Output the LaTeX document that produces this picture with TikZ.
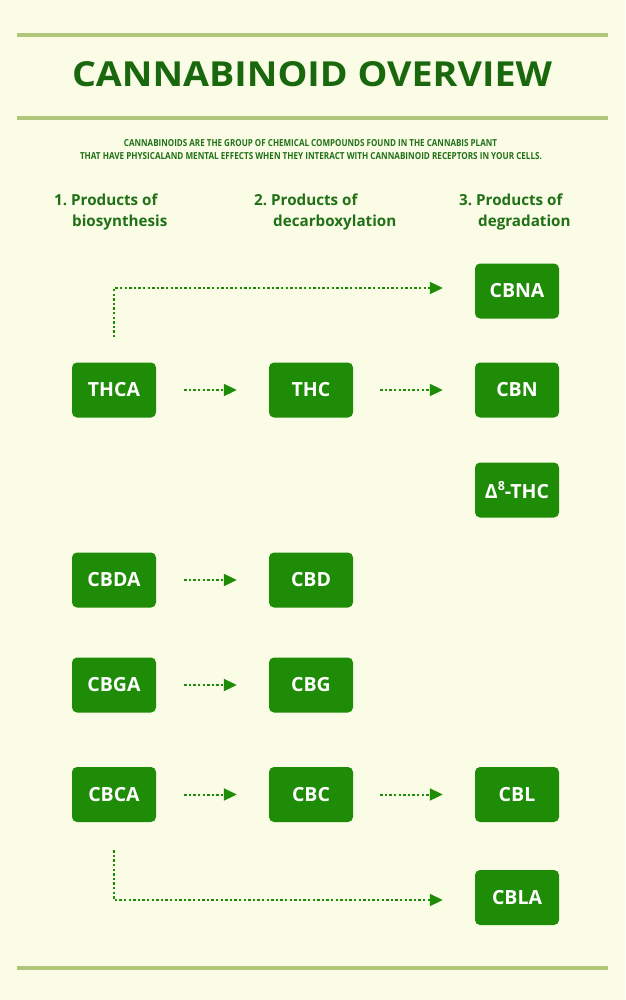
\documentclass[tikz,border=0pt]{standalone}
\usepackage{fontspec}
\setmainfont{Open Sans}
\usetikzlibrary{arrows.meta}
\definecolor{bg}{RGB}{250,252,230}
\definecolor{rule}{RGB}{176,198,122}
\definecolor{titlegreen}{RGB}{26,104,14}
\definecolor{textgreen}{RGB}{32,112,22}
\definecolor{boxgreen}{RGB}{30,140,6}
\tikzset{
  cbox/.style={fill=boxgreen, rounded corners=5pt, minimum width=84pt, minimum height=55pt,
    inner sep=0pt, text=white, font=\fontsize{19.5}{19.5}\selectfont\bfseries},
  hdr/.style={anchor=base west, inner sep=0pt, text=textgreen, font=\fontsize{15.2}{15.2}\selectfont\bfseries},
  flow/.style={draw=boxgreen, line width=2pt, dash pattern=on 2.4pt off 2.2pt,
    -{Triangle[length=13pt,width=12pt,fill=boxgreen]}},
  band/.style={draw=rule, line width=4pt}
}
\begin{document}
\begin{tikzpicture}[x=1pt,y=-1pt]
\fill[bg] (0,0) rectangle (625,1000);
\useasboundingbox (0,0) rectangle (625,1000);
% rules
\draw[band] (17,35) -- (608,35);
\draw[band] (17,118) -- (608,118);
\draw[band] (17,968) -- (608,968);
% title
\node[inner sep=0pt, text=titlegreen, anchor=base] (title) at (312,87)
  {\resizebox{480pt}{25pt}{\bfseries CANNABINOID OVERVIEW}};
\node[inner sep=0pt, text=textgreen, anchor=base] (sub1) at (310.5,147)
  {\resizebox{373pt}{7pt}{\bfseries CANNABINOIDS ARE THE GROUP OF CHEMICAL COMPOUNDS FOUND IN THE CANNABIS PLANT}};
\node[inner sep=0pt, text=textgreen, anchor=base] (sub2) at (311,159.5)
  {\resizebox{462pt}{7pt}{\bfseries THAT HAVE PHYSICALAND MENTAL EFFECTS WHEN THEY INTERACT WITH CANNABINOID RECEPTORS IN YOUR CELLS.}};
% headers
\node[hdr] (h1a) at (54,206) {1.~Products of};
\node[hdr] (h1b) at (72,227) {biosynthesis};
\node[hdr] (h2a) at (254,206) {2.~Products of};
\node[hdr] (h2b) at (273,227) {decarboxylation};
\node[hdr] (h3a) at (459,206) {3.~Products of};
\node[hdr] (h3b) at (478,227) {degradation};
% boxes
\node[cbox] (CBNA) at (517,291) {CBNA};
\node[cbox] (THCA) at (114,390) {THCA};
\node[cbox] (THC)  at (311,390) {THC};
\node[cbox] (CBN)  at (517,390) {CBN};
\node[cbox] (D8)   at (517,490) {Δ\raisebox{0.4em}{\fontsize{12.5}{12.5}\selectfont 8}-THC};
\node[cbox] (CBDA) at (114,580) {CBDA};
\node[cbox] (CBD)  at (311,580) {CBD};
\node[cbox] (CBGA) at (114,685) {CBGA};
\node[cbox] (CBG)  at (311,685) {CBG};
\node[cbox] (CBCA) at (114,794.5) {CBCA};
\node[cbox] (CBC)  at (311,794.5) {CBC};
\node[cbox] (CBL)  at (517,794.5) {CBL};
\node[cbox] (CBLA) at (517,897.5) {CBLA};
% connectors
\draw[flow, shorten <=28pt, shorten >=32pt] (THCA.east) -- (THC.west);
\draw[flow, shorten <=27pt, shorten >=32pt] (THC.east) -- (CBN.west);
\draw[flow, shorten <=28pt, shorten >=32pt] (CBDA.east) -- (CBD.west);
\draw[flow, shorten <=28pt, shorten >=32pt] (CBGA.east) -- (CBG.west);
\draw[flow, shorten <=28pt, shorten >=32pt] (CBCA.east) -- (CBC.west);
\draw[flow, shorten <=27pt, shorten >=32pt] (CBC.east) -- (CBL.west);
\draw[flow, shorten <=25pt, shorten >=32pt] (THCA.north) |- ([yshift=3pt]CBNA.west);
\draw[flow, shorten <=28pt, shorten >=32pt] (CBCA.south) |- ([yshift=-2.5pt]CBLA.west);
\end{tikzpicture}
\end{document}
